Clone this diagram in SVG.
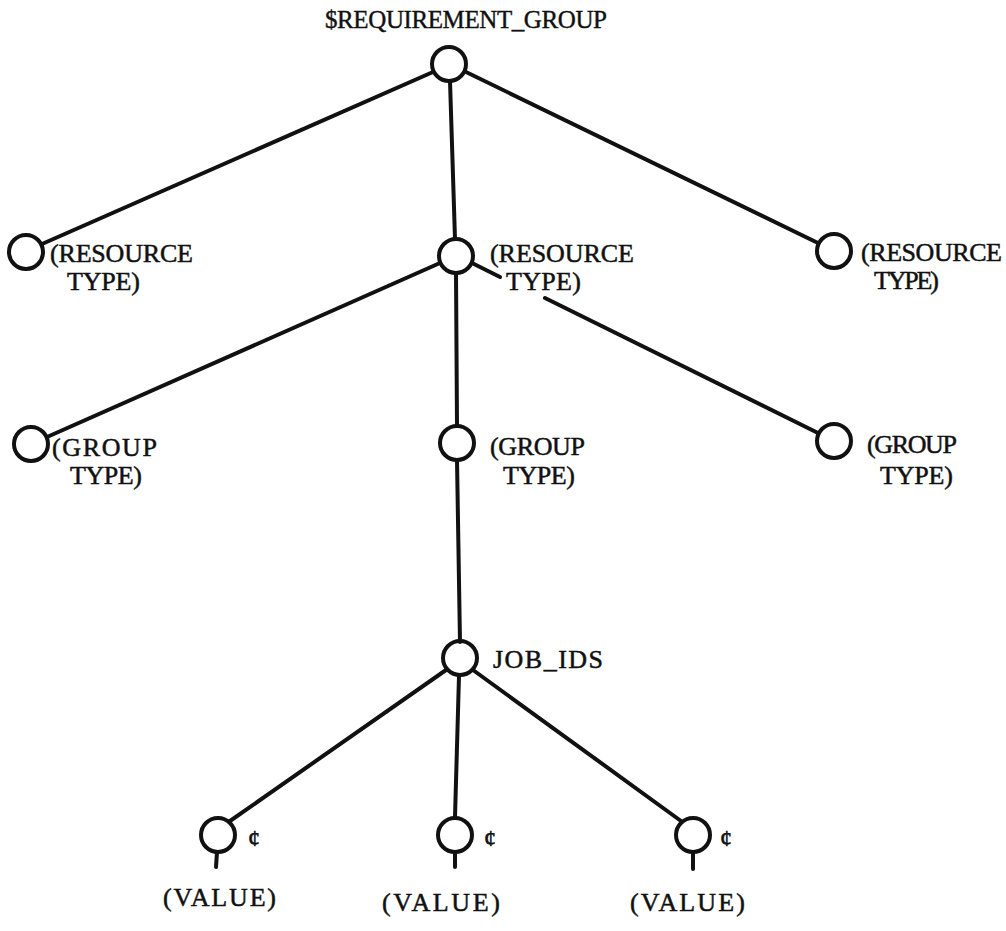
<svg xmlns="http://www.w3.org/2000/svg" width="1006" height="931" viewBox="0 0 1006 931">
<style>
.n{fill:none;stroke:#111;stroke-width:4}
.e{stroke:#111;stroke-width:4;stroke-linecap:round;fill:none}
.t{font-family:"Liberation Serif","Times New Roman",serif;font-size:26px;fill:#111;stroke:#111;stroke-width:0.5}
.h{font-family:"Liberation Serif","Times New Roman",serif;font-size:25px;fill:#111;stroke:#111;stroke-width:0.4}
.c{font-family:"Liberation Serif","Times New Roman",serif;font-size:24px;fill:#111;stroke:#111;stroke-width:0.6}
</style>
<rect width="1006" height="931" fill="#fff"/>
<g id="connectors">
<line class="e" x1="433" y1="72" x2="42" y2="244"/>
<line class="e" x1="450" y1="81" x2="455" y2="239"/>
<line class="e" x1="466" y1="72" x2="818" y2="243"/>
<line class="e" x1="440" y1="263" x2="47" y2="437"/>
<line class="e" x1="456" y1="273" x2="457" y2="426"/>
<line class="e" x1="472" y1="263" x2="500" y2="277"/>
<line class="e" x1="545" y1="298" x2="818" y2="433"/>
<line class="e" x1="457" y1="460" x2="460" y2="642"/>
<line class="e" x1="446" y1="670" x2="230" y2="821"/>
<line class="e" x1="459" y1="676" x2="455" y2="817"/>
<line class="e" x1="473" y1="670" x2="681" y2="821"/>
</g>
<g id="root">
<circle class="n" cx="449" cy="64" r="17"/>
<text class="h" x="325" y="28" textLength="282" lengthAdjust="spacing">$REQUIREMENT_GROUP</text>
</g>
<g id="resource-left">
<circle class="n" cx="26" cy="252" r="17"/>
<text class="t" x="50" y="262" textLength="143" lengthAdjust="spacing">(RESOURCE</text>
<text class="t" x="67" y="290" textLength="73" lengthAdjust="spacing">TYPE)</text>
</g>
<g id="resource-mid">
<circle class="n" cx="456" cy="256" r="17"/>
<text class="t" x="490" y="262" textLength="144" lengthAdjust="spacing">(RESOURCE</text>
<text class="t" x="506" y="290" textLength="75" lengthAdjust="spacing">TYPE)</text>
</g>
<g id="resource-right">
<circle class="n" cx="834" cy="251" r="17"/>
<text class="t" x="861" y="261" textLength="141" lengthAdjust="spacing">(RESOURCE</text>
<text class="t" x="874" y="289" textLength="65" lengthAdjust="spacing">TYPE)</text>
</g>
<g id="group-left">
<circle class="n" cx="31" cy="444" r="17"/>
<text class="t" x="52" y="456" textLength="105" lengthAdjust="spacing">(GROUP</text>
<text class="t" x="70" y="484" textLength="72" lengthAdjust="spacing">TYPE)</text>
</g>
<g id="group-mid">
<circle class="n" cx="457" cy="443" r="17"/>
<text class="t" x="490" y="455" textLength="95" lengthAdjust="spacing">(GROUP</text>
<text class="t" x="503" y="484" textLength="72" lengthAdjust="spacing">TYPE)</text>
</g>
<g id="group-right">
<circle class="n" cx="834" cy="441" r="17"/>
<text class="t" x="867" y="453" textLength="90" lengthAdjust="spacing">(GROUP</text>
<text class="t" x="880" y="484" textLength="73" lengthAdjust="spacing">TYPE)</text>
</g>
<g id="job-ids">
<circle class="n" cx="460" cy="658" r="17"/>
<text class="t" x="493" y="668" textLength="110" lengthAdjust="spacing">JOB_IDS</text>
</g>
<g id="value-left">
<circle class="n" cx="218" cy="835" r="17"/>
<line class="e" x1="217" y1="852" x2="216" y2="867"/>
<text class="c" x="248" y="846">¢</text>
<text class="t" x="163" y="906" textLength="113" lengthAdjust="spacing">(VALUE)</text>
</g>
<g id="value-mid">
<circle class="n" cx="455" cy="835" r="17"/>
<line class="e" x1="455" y1="852" x2="455" y2="867"/>
<text class="c" x="484" y="846">¢</text>
<text class="t" x="382" y="911" textLength="118" lengthAdjust="spacing">(VALUE)</text>
</g>
<g id="value-right">
<circle class="n" cx="693" cy="835" r="17"/>
<line class="e" x1="693" y1="852" x2="693" y2="869"/>
<text class="c" x="720" y="846">¢</text>
<text class="t" x="630" y="911" textLength="115" lengthAdjust="spacing">(VALUE)</text>
</g>
</svg>
